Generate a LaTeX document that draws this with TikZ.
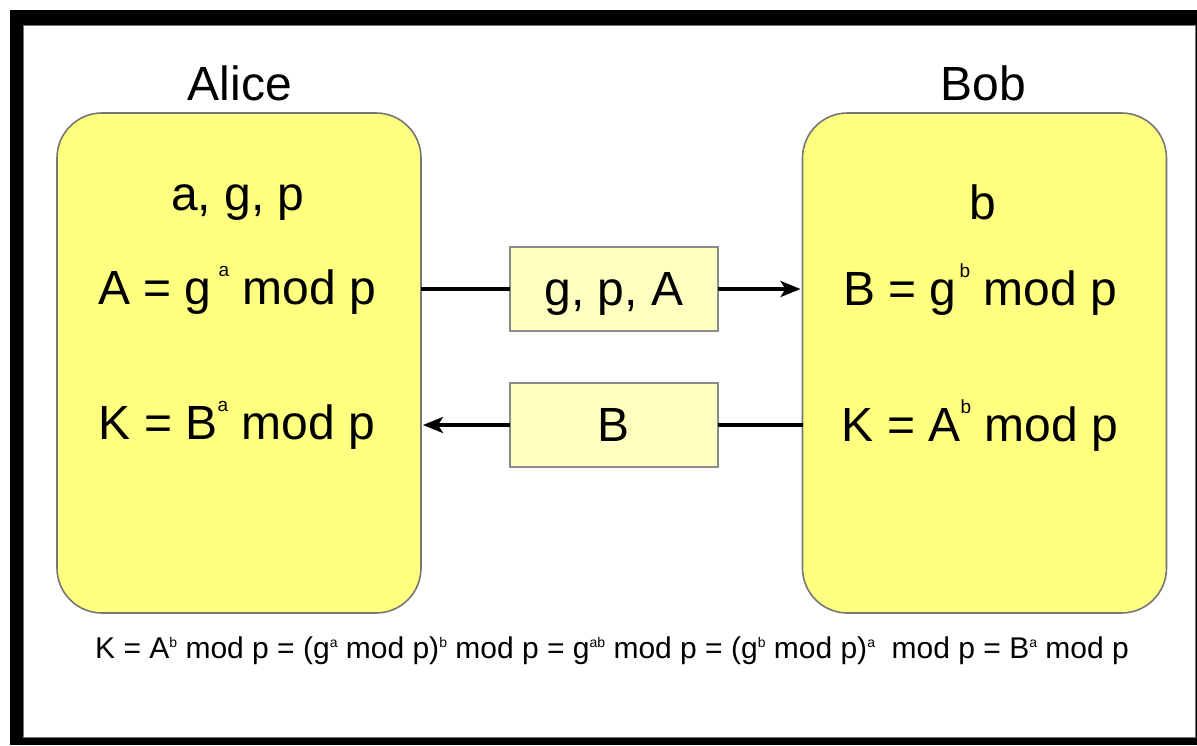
\documentclass[tikz,border=0pt]{standalone}
\usepackage{fontspec}
\setmainfont{Liberation Sans}
\usetikzlibrary{arrows.meta}

\definecolor{partyfill}{RGB}{255,255,128}
\definecolor{msgfill}{RGB}{255,255,192}
\definecolor{edgegray}{RGB}{118,118,118}

% raised exponents for the large and the small formulas
\newcommand\bigexp[1]{\raisebox{28pt}{\fontsize{19}{19}\selectfont #1}}
\newcommand\smallexp[1]{\raisebox{11pt}{\fontsize{14}{14}\selectfont #1}}

\tikzset{
  party/.style={draw=edgegray, line width=1.6pt, fill=partyfill,
    rounded corners=45pt, inner sep=0pt, outer sep=0pt,
    minimum width=364pt, minimum height=500pt},
  msgbox/.style={draw=edgegray!85, line width=1.3pt, fill=msgfill,
    inner sep=0pt, outer sep=0pt, minimum width=208pt, minimum height=84pt,
    text height=34pt, text depth=2pt, font=\fontsize{48}{56}\selectfont},
  bigtext/.style={anchor=base, inner sep=0pt, font=\fontsize{48}{56}\selectfont},
  smalltext/.style={anchor=base, inner sep=0pt, font=\fontsize{30}{36}\selectfont},
  wire/.style={line width=3.4pt, black},
  tip/.style={-{Stealth[length=20pt, width=16pt, inset=5pt]}}
}

\begin{document}
\begin{tikzpicture}[x=1pt, y=-1pt]
  % page and black frame
  \fill[white] (0,0) rectangle (1197,745);
  \useasboundingbox (0,0) rectangle (1197,745);
  \fill[black] (10,10) rectangle (1197,745);
  \filldraw[fill=white, draw=edgegray, line width=0.8pt] (23,25) rectangle (1195,737);

  % the two parties
  \node[party] (alice) at (239,363) {};
  \node[party] (bob) at (984.5,363) {};
  \node[bigtext] (alicename) at (240,100) {Alice};
  \node[bigtext] (bobname) at (983,100) {Bob};

  \node[bigtext] (aparams) at (238,210) {a, g, p};
  \node[bigtext] (acalc) at (237,304) {A = g\hspace{7pt}\bigexp{a} mod p};
  \node[bigtext] (akey) at (237,439) {K = B\bigexp{a} mod p};

  \node[bigtext] (bparams) at (983,219) {b};
  \node[bigtext] (bcalc) at (980,305) {B = g\hspace{3pt}\bigexp{b} mod p};
  \node[bigtext] (bkey) at (980,441) {K = A\bigexp{b} mod p};

  % exchanged values
  \node[msgbox] (msgA) at (614,289) {g, p, A};
  \node[msgbox] (msgB) at (614,425) {B};

  \draw[wire] (alice.east |- msgA.west) -- (msgA.west);
  \draw[wire, tip] (msgA.east) -- ([xshift=-2pt]bob.west |- msgA.east);
  \draw[wire] (bob.west |- msgB.east) -- (msgB.east);
  \draw[wire, tip] (msgB.west) -- ([xshift=2pt]alice.east |- msgB.west);

  % shared key
  \node[smalltext] (shared) at (612,658) {K = A\smallexp{b} mod p = (g\smallexp{a} mod p)\smallexp{b} mod p = g\smallexp{ab} mod p = (g\smallexp{b} mod p)\smallexp{a}\ \ mod p = B\smallexp{a} mod p};
\end{tikzpicture}
\end{document}
